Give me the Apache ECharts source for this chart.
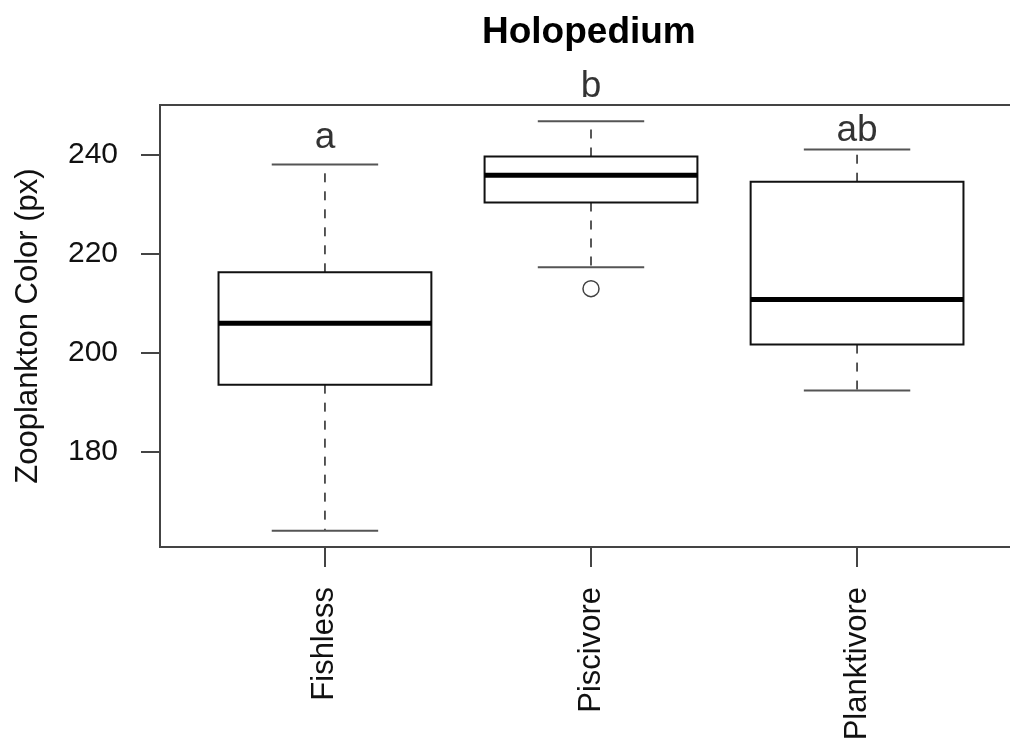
<!DOCTYPE html>
<html>
<head>
<meta charset="utf-8">
<script src="https://cdn.jsdelivr.net/npm/echarts@6/dist/echarts.min.js"></script>
<style>
  html, body { margin: 0; padding: 0; background: #fff; }
  #main { width: 1010px; height: 742px; }
</style>
</head>
<body>
<div id="main"></div>
<script>
var categories = ['Fishless', 'Piscivore', 'Planktivore'];
// five-number summaries: [lower whisker, Q1, median, Q3, upper whisker]
var fishless = [164.0, 193.5, 205.9, 216.2, 238.0];
var piscivore = [217.2, 230.3, 235.8, 239.6, 246.7];
var planktivore = [192.3, 201.6, 210.7, 234.5, 241.0];
var outliers = [[2, 212.9]];
var groupLetters = ['a', 'b', 'ab'];
var letterY = [243.4, 253.6, 244.8];
var yTicks = [180, 200, 220, 240];

var font = '"Liberation Sans", Arial, sans-serif';

var boxData = [fishless, piscivore, planktivore].map(function (s, i) {
    return [i + 1].concat(s);
});
var letterData = groupLetters.map(function (t, i) {
    return [i + 1, letterY[i], t];
});

function renderBox(params, api) {
    var x = api.value(0);
    var lo = api.coord([x, api.value(1)]);
    var q1 = api.coord([x, api.value(2)]);
    var med = api.coord([x, api.value(3)]);
    var q3 = api.coord([x, api.value(4)]);
    var hi = api.coord([x, api.value(5)]);
    var half = api.size([0.4, 0])[0];
    var cap = api.size([0.2, 0])[0];
    var cx = med[0];
    var dash = { stroke: '#222', lineWidth: 1.5, lineDash: [9, 9] };
    var capStyle = { stroke: '#555', lineWidth: 2 };
    return {
        type: 'group',
        children: [
            { type: 'line', shape: { x1: cx, y1: q3[1], x2: cx, y2: hi[1] }, style: dash },
            { type: 'line', shape: { x1: cx, y1: q1[1], x2: cx, y2: lo[1] }, style: dash },
            { type: 'line', shape: { x1: cx - cap, y1: hi[1], x2: cx + cap, y2: hi[1] }, style: capStyle },
            { type: 'line', shape: { x1: cx - cap, y1: lo[1], x2: cx + cap, y2: lo[1] }, style: capStyle },
            {
                type: 'rect',
                shape: { x: cx - half, y: q3[1], width: half * 2, height: q1[1] - q3[1] },
                style: { fill: '#fff', stroke: '#111', lineWidth: 2 }
            },
            { type: 'line', shape: { x1: cx - half, y1: med[1], x2: cx + half, y2: med[1] }, style: { stroke: '#000', lineWidth: 5 } }
        ]
    };
}

var chart = echarts.init(document.getElementById('main'));
chart.setOption({
    animation: false,
    backgroundColor: '#fff',
    title: {
        text: 'Holopedium',
        left: 482,
        top: 14,
        padding: 0,
        textStyle: { fontFamily: font, fontSize: 37, fontWeight: 'bold', color: '#000' }
    },
    grid: {
        left: 160,
        top: 105,
        width: 862,
        bottom: 195,
        outerBoundsMode: 'none',
        containLabel: false,
        show: true,
        borderColor: '#444',
        borderWidth: 2,
        backgroundColor: 'transparent'
    },
    xAxis: {
        type: 'value',
        min: 0.38,
        max: 3.62,
        axisLine: { show: false },
        splitLine: { show: false },
        axisTick: { show: true, length: 20, customValues: [1, 2, 3], lineStyle: { color: '#444', width: 2 } },
        axisLabel: {
            customValues: [1, 2, 3],
            rotate: 90,
            margin: 40,
            fontFamily: font,
            fontSize: 31,
            color: '#111',
            formatter: function (v) { return categories[Math.round(v) - 1]; }
        }
    },
    yAxis: {
        type: 'value',
        min: 160.7,
        max: 250,
        name: 'Zooplankton Color (px)',
        nameLocation: 'middle',
        nameGap: 116,
        nameTextStyle: { fontFamily: font, fontSize: 31, color: '#111' },
        axisLine: { show: false },
        splitLine: { show: false },
        axisTick: { show: true, length: 19, customValues: yTicks, lineStyle: { color: '#444', width: 2 } },
        axisLabel: {
            customValues: yTicks,
            margin: 42,
            fontFamily: font,
            fontSize: 30,
            color: '#111'
        }
    },
    series: [
        {
            type: 'custom',
            renderItem: renderBox,
            encode: { x: 0, y: [1, 2, 3, 4, 5] },
            data: boxData,
            clip: false
        },
        {
            type: 'scatter',
            data: outliers,
            symbol: 'circle',
            symbolSize: 16,
            itemStyle: { color: '#fff', borderColor: '#111', borderWidth: 1.5 }
        },
        {
            type: 'scatter',
            data: letterData,
            symbolSize: 0,
            clip: false,
            label: {
                show: true,
                position: 'inside',
                formatter: function (p) { return p.data[2]; },
                fontFamily: font,
                fontSize: 37,
                color: '#000'
            }
        }
    ]
});
</script>
</body>
</html>
